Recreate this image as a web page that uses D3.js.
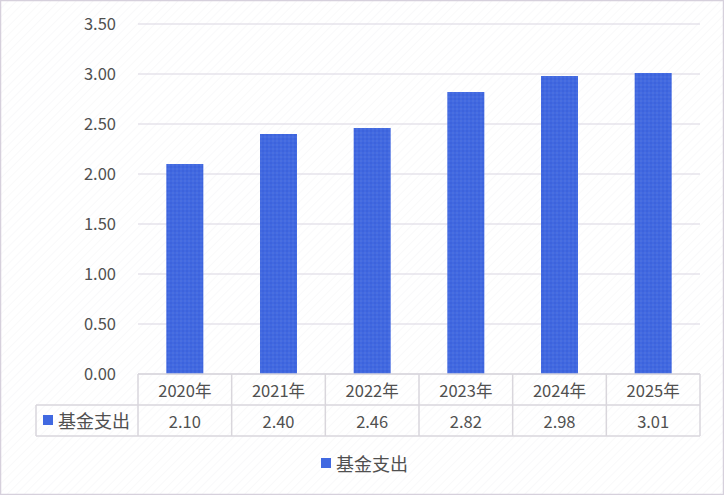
<!DOCTYPE html>
<html><head><meta charset="utf-8">
<script src="https://cdn.jsdelivr.net/npm/d3@7"></script>
<style>body{margin:0;background:#fff;} svg{display:block;}</style>
</head><body>
<script>
const categories = ["2020年","2021年","2022年","2023年","2024年","2025年"];
const values = [2.10, 2.40, 2.46, 2.82, 2.98, 3.01];
const valueLabels = ["2.10","2.40","2.46","2.82","2.98","3.01"];
const yTicks = [0, 0.5, 1.0, 1.5, 2.0, 2.5, 3.0, 3.5];
const seriesName = "基金支出";

const W = 724, H = 495;
const svg = d3.select("body").append("svg").attr("width", W).attr("height", H);
const font = "'Noto Sans CJK SC','Noto Sans',sans-serif";
const textColor = "#505050";
const blue = "#4169E1";

// faint background hatching
const defs = svg.append("defs");
const bg = defs.append("pattern").attr("id","bgp").attr("width",6).attr("height",6)
  .attr("patternUnits","userSpaceOnUse").attr("patternTransform","rotate(45)");
bg.append("rect").attr("width",6).attr("height",6).attr("fill","#fff");
bg.append("line").attr("x1",0).attr("y1",0).attr("x2",0).attr("y2",6).attr("stroke","#f3f3f6").attr("stroke-width",1);
const bp = defs.append("pattern").attr("id","barp").attr("width",4).attr("height",4).attr("patternUnits","userSpaceOnUse");
bp.append("rect").attr("width",4).attr("height",4).attr("fill",blue);
bp.append("rect").attr("width",2).attr("height",2).attr("fill","#4a6fe0");
bp.append("rect").attr("x",2).attr("y",2).attr("width",2).attr("height",2).attr("fill","#3d63dc");

svg.append("rect").attr("x",0.5).attr("y",0.5).attr("width",W-1).attr("height",H-1)
  .attr("fill","url(#bgp)").attr("stroke","#d6d0dc").attr("stroke-width",1.5);

const plotLeft = 138, plotRight = 700, plotTop = 24, plotBottom = 374;
const xCell = d3.scaleBand().domain(categories).range([plotLeft, plotRight]);
const y = d3.scaleLinear().domain([0, 3.5]).range([plotBottom, plotTop]);

// gridlines
svg.append("g").selectAll("line").data(yTicks).join("line")
  .attr("x1", plotLeft).attr("x2", plotRight)
  .attr("y1", d => y(d)).attr("y2", d => y(d))
  .attr("stroke", "#d9d6e2").attr("stroke-width", 1.2);

// y axis labels
const yAxis = d3.axisLeft(y).tickValues(yTicks).tickFormat(d3.format(".2f")).tickSize(0).tickPadding(0);
const ya = svg.append("g").attr("transform", `translate(116,0)`).call(yAxis);
ya.select(".domain").remove();
ya.selectAll("text").attr("font-family", font).attr("font-size", 16.5).attr("fill", textColor);

// bars
svg.append("g").selectAll("rect").data(values).join("rect")
  .attr("x", (d,i) => xCell(categories[i]) + xCell.bandwidth()/2 - 18.5)
  .attr("width", 37)
  .attr("y", d => y(d))
  .attr("height", d => y(0) - y(d))
  .attr("fill", "url(#barp)");

// data table
const rowTop = 374, rowMid = 405, rowBot = 436, tableLeft = 36;
const tbl = svg.append("g").attr("stroke", "#d9d6dc").attr("stroke-width", 1.5).attr("fill","none");
tbl.append("line").attr("x1", plotLeft).attr("x2", plotRight).attr("y1", rowTop).attr("y2", rowTop);
tbl.append("line").attr("x1", tableLeft).attr("x2", plotRight).attr("y1", rowMid).attr("y2", rowMid);
tbl.append("line").attr("x1", tableLeft).attr("x2", plotRight).attr("y1", rowBot).attr("y2", rowBot);
tbl.append("line").attr("x1", tableLeft).attr("x2", tableLeft).attr("y1", rowMid).attr("y2", rowBot);
const bounds = categories.map(c => xCell(c)).concat([plotRight]);
tbl.selectAll("line.v").data(bounds).join("line").attr("class","v")
  .attr("x1", d => d).attr("x2", d => d).attr("y1", rowTop).attr("y2", rowBot);

svg.append("g").selectAll("text").data(categories).join("text")
  .attr("x", d => xCell(d) + xCell.bandwidth()/2).attr("y", 390)
  .attr("text-anchor","middle").attr("dominant-baseline","central")
  .attr("font-family", font).attr("font-size", 16.5).attr("fill", textColor).text(d => d);
svg.append("g").selectAll("text").data(valueLabels).join("text")
  .attr("x", (d,i) => xCell(categories[i]) + xCell.bandwidth()/2).attr("y", 421)
  .attr("text-anchor","middle").attr("dominant-baseline","central")
  .attr("font-family", font).attr("font-size", 16.5).attr("fill", textColor).text(d => d);

svg.append("rect").attr("x", 43).attr("y", 415).attr("width", 10).attr("height", 10).attr("fill", blue);
svg.append("text").attr("x", 58).attr("y", 420).attr("dominant-baseline","central")
  .attr("font-family", font).attr("font-size", 18).attr("fill", textColor).text(seriesName);

// legend
svg.append("rect").attr("x", 321).attr("y", 458).attr("width", 10).attr("height", 10).attr("fill", blue);
svg.append("text").attr("x", 336).attr("y", 463).attr("dominant-baseline","central")
  .attr("font-family", font).attr("font-size", 18).attr("fill", textColor).text(seriesName);
</script>
</body></html>
